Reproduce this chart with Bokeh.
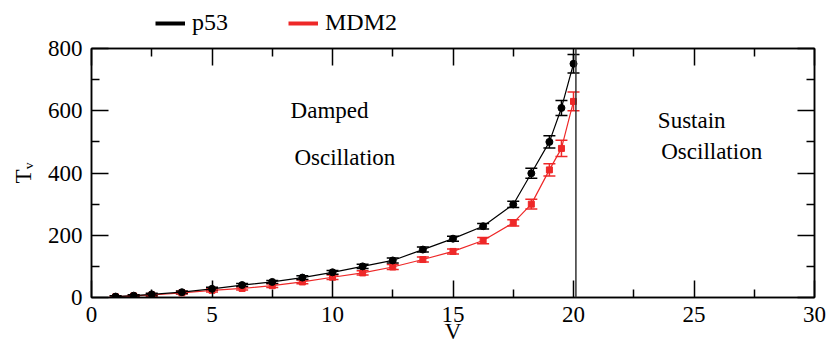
from bokeh.plotting import figure
from bokeh.layouts import column
from bokeh.models import (ColumnDataSource, Whisker, TeeHead, Span, Label, Legend, LegendItem,
                          LinearAxis, FixedTicker)
from bokeh.embed import file_html
from bokeh.resources import INLINE

# ---- data ----
v = [1.0, 1.75, 2.5, 3.75, 5.0, 6.25, 7.5, 8.75, 10.0, 11.25, 12.5, 13.75, 15.0,
     16.25, 17.5, 18.25, 19.0, 19.5, 20.0]
p53 = [3, 6, 10, 17, 28, 40, 50, 64, 81, 100, 119, 154, 189, 229, 299, 399, 500, 609, 751]
p53_err = [3, 3, 4, 4, 5, 5, 5, 6, 6, 7, 8, 8, 8, 9, 10, 16, 20, 24, 30]
mdm2 = [2, 5, 8, 15, 23, 29, 38, 50, 65, 79, 98, 122, 148, 183, 240, 300, 410, 479, 630]
mdm2_err = [3, 3, 4, 4, 5, 5, 6, 6, 7, 7, 8, 8, 8, 10, 10, 16, 20, 26, 30]
critical_v = 20.1
x_ticks = [0, 5, 10, 15, 20, 25, 30]
y_ticks = [0, 200, 400, 600, 800]

FONT = "Liberation Serif"
RED = "#ee2828"

src_p = ColumnDataSource(dict(x=v, y=p53,
                              lo=[a - b for a, b in zip(p53, p53_err)],
                              hi=[a + b for a, b in zip(p53, p53_err)]))
src_m = ColumnDataSource(dict(x=v, y=mdm2,
                              lo=[a - b for a, b in zip(mdm2, mdm2_err)],
                              hi=[a + b for a, b in zip(mdm2, mdm2_err)]))

p = figure(width=827, height=311, x_range=(0, 30), y_range=(0, 800),
           output_backend="svg", toolbar_location=None,
           min_border_left=91, min_border_right=13, min_border_top=12, min_border_bottom=50,
           x_axis_label="V", y_axis_label="Tᵥ")
p.xgrid.visible = False
p.ygrid.visible = False
p.outline_line_color = "black"
p.outline_line_width = 1.5

def style_axis(ax, ticks, labels=True):
    ax.ticker = FixedTicker(ticks=ticks, minor_ticks=[t + (ticks[1] - ticks[0]) / 2 for t in ticks[:-1]])
    ax.axis_line_width = 1.5
    ax.major_tick_line_width = 1.5
    ax.minor_tick_line_width = 1.5
    ax.major_tick_in = 17
    ax.major_tick_out = 0
    ax.minor_tick_in = 8
    ax.minor_tick_out = 0
    ax.major_label_text_font = FONT
    ax.major_label_text_font_size = "23px"
    ax.major_label_text_color = "black"
    ax.axis_label_text_font = FONT
    ax.axis_label_text_font_size = "23px"
    ax.axis_label_text_font_style = "normal"
    ax.axis_label_text_color = "black"
    if not labels:
        ax.major_label_overrides = {t: "" for t in ticks}
        ax.major_label_text_font_size = "1px"
        ax.major_label_standoff = 0

style_axis(p.xaxis[0], x_ticks)
style_axis(p.yaxis[0], y_ticks)
p.xaxis[0].major_label_standoff = 9
p.xaxis[0].axis_label_standoff = -6
p.yaxis[0].major_label_standoff = 9
p.yaxis[0].axis_label_standoff = 9

top = LinearAxis()
style_axis(top, x_ticks, labels=False)
p.add_layout(top, "above")
right = LinearAxis()
style_axis(right, y_ticks, labels=False)
p.add_layout(right, "right")

# curves
p.line("x", "y", source=src_m, line_color=RED, line_width=1.2)
p.line("x", "y", source=src_p, line_color="black", line_width=1.2)
p.add_layout(Whisker(source=src_m, base="x", upper="hi", lower="lo", line_color=RED, line_width=1.5,
                     upper_head=TeeHead(size=12, line_color=RED, line_width=1.5),
                     lower_head=TeeHead(size=12, line_color=RED, line_width=1.5)))
p.add_layout(Whisker(source=src_p, base="x", upper="hi", lower="lo", line_color="black", line_width=1.5,
                     upper_head=TeeHead(size=12, line_color="black", line_width=1.5),
                     lower_head=TeeHead(size=12, line_color="black", line_width=1.5)))
p.scatter("x", "y", source=src_m, marker="square", size=6, fill_color=RED, line_color=RED)
p.scatter("x", "y", source=src_p, marker="circle", size=7, fill_color="black", line_color="black")

p.add_layout(Span(location=critical_v, dimension="height", line_color="#333333", line_width=1.5))

# annotations
for txt, x, y in [("Damped", 8.26, 601), ("Oscillation", 8.42, 451),
                  ("Sustain", 23.5, 570), ("Oscillation", 23.64, 469)]:
    p.add_layout(Label(x=x, y=y, text=txt, text_font=FONT, text_font_size="23px",
                       text_baseline="alphabetic", text_color="black"))

# legend strip above the plot (its renderers lie outside this strip's ranges)
lf = figure(width=827, height=36, x_range=(0, 1), y_range=(0, 1),
            output_backend="svg", toolbar_location=None, min_border=0)
lf.axis.visible = False
lf.xgrid.visible = False
lf.ygrid.visible = False
lf.outline_line_color = None
l1 = lf.line(v, p53, line_color="black", line_width=4)
l2 = lf.line(v, mdm2, line_color=RED, line_width=4)
leg = Legend(items=[LegendItem(label="p53", renderers=[l1]), LegendItem(label="MDM2", renderers=[l2])],
             location=(64, 0), orientation="horizontal", spacing=60, glyph_width=30, glyph_height=20,
             label_text_font=FONT, label_text_font_size="24px", label_text_color="black",
             label_standoff=7, border_line_color=None, background_fill_alpha=0, padding=0, margin=0)
lf.add_layout(leg, "center")

layout = column(lf, p, spacing=0)
open("out.html", "w").write(file_html(layout, INLINE))
